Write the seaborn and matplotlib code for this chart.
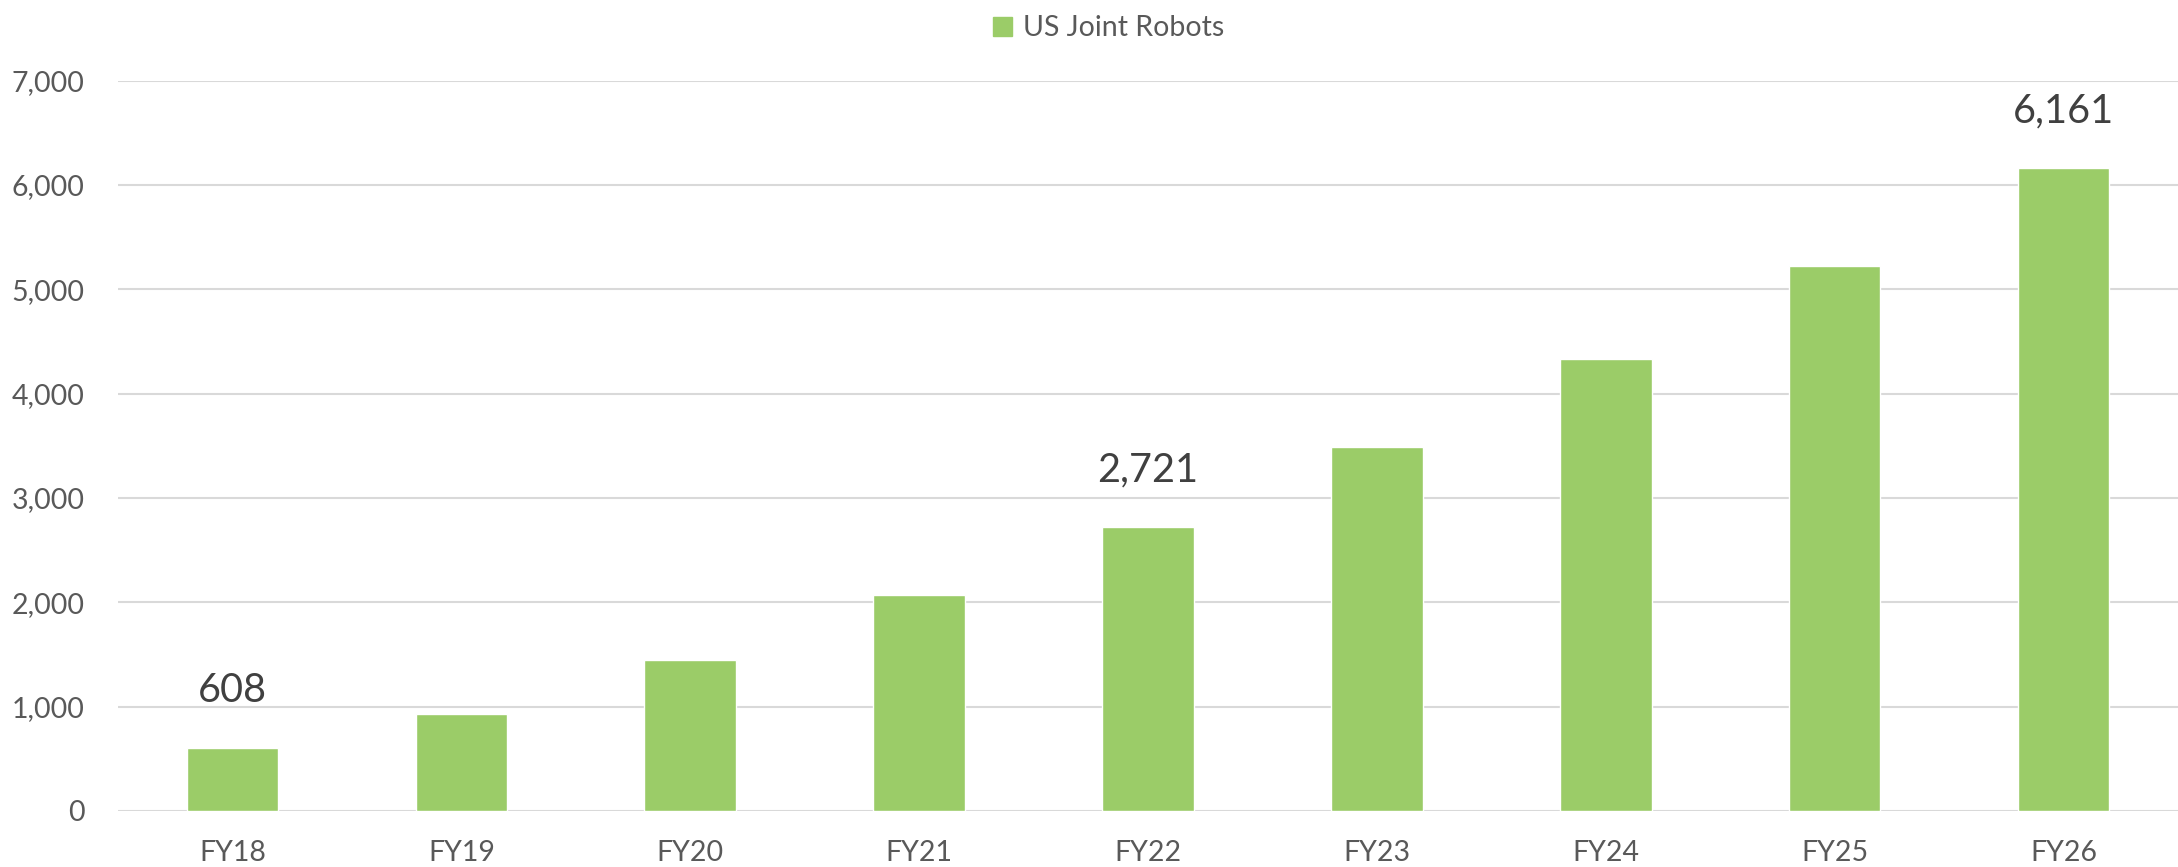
import pandas as pd
import seaborn as sns
import matplotlib.pyplot as plt
from matplotlib.patches import Patch
from matplotlib.ticker import FuncFormatter

# Chart values
years = ['FY18', 'FY19', 'FY20', 'FY21', 'FY22', 'FY23', 'FY24', 'FY25', 'FY26']
robots = [608, 930, 1445, 2067, 2721, 3490, 4335, 5225, 6161]
shown_labels = ['608', '', '', '', '2,721', '', '', '', '6,161']

df = pd.DataFrame({'Year': years, 'Robots': robots})

sns.set_theme(style="white")
plt.rcParams['font.family'] = ['Lato', 'DejaVu Sans']

bar_green = '#9BCC68'
tick_grey = '#595959'

fig = plt.figure(figsize=(21.78, 8.67), dpi=100)
ax = fig.add_axes([0.0542, 0.0646, 0.9458, 0.8424])

sns.barplot(data=df, x='Year', y='Robots', color=bar_green, width=0.4,
            saturation=1, ax=ax, zorder=3)

ax.set_ylim(0, 7000)
ax.set_xlim(-0.5, len(years) - 0.5)
ax.set_yticks(range(0, 7001, 1000))
ax.yaxis.set_major_formatter(FuncFormatter(lambda v, p: f'{int(v):,}'))
ax.grid(axis='y', color='#d9d9d9', linewidth=1.5, zorder=0)
ax.set_axisbelow(True)
for side in ['top', 'right', 'left', 'bottom']:
    ax.spines[side].set_visible(False)
ax.set_xlabel('')
ax.set_ylabel('')
ax.tick_params(axis='both', length=0, labelsize=20.5, labelcolor=tick_grey)
ax.tick_params(axis='x', pad=21)
ax.tick_params(axis='y', pad=24)

ax.bar_label(ax.containers[0], labels=shown_labels, padding=28,
             fontsize=28.5, color='#404040')

fig.legend(handles=[Patch(color=bar_green, label='US Joint Robots')],
           loc='upper center', bbox_to_anchor=(0.509, 1.012), frameon=False,
           fontsize=20.5, labelcolor=tick_grey, handlelength=0.65,
           handleheight=0.65, handletextpad=0.4)

fig.savefig('out.png', dpi=100)
